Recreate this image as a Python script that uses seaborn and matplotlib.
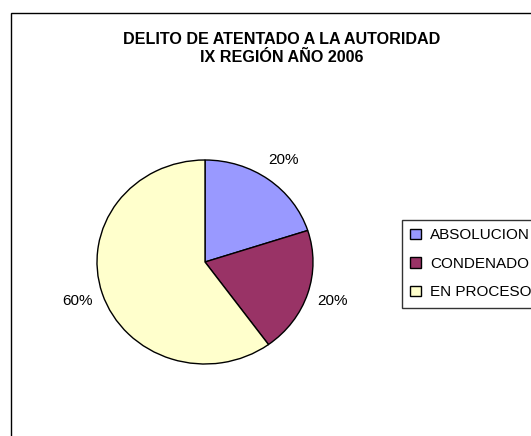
"""
Pie chart - Delito de atentado a la autoridad, IX Region 2006
"""
import matplotlib
matplotlib.use('Agg')
import matplotlib.pyplot as plt
import matplotlib.patches as mpatches
import seaborn as sns

sns.set_style('white')
plt.rcParams['font.family'] = ['Liberation Sans', 'DejaVu Sans']
plt.rcParams['text.color'] = 'black'

# data
categories = ['ABSOLUCION', 'CONDENADO', 'EN PROCESO']
values = [20, 20, 60]
colors = ['#9999FF', '#993366', '#FFFFCC']
title = 'DELITO DE ATENTADO A LA AUTORIDAD\nIX REGIÓN AÑO 2006'

W, H = 531, 436
fig = plt.figure(figsize=(W / 100, H / 100), dpi=100)

# outer chart frame (runs off the right/bottom edge like the original)
frame = mpatches.Rectangle((11 / W, -0.1), 2, (H - 13) / H + 0.1,
                           transform=fig.transFigure, fill=False,
                           edgecolor='black', lw=1)
fig.patches.append(frame)

# pie axes sized in pixels (slightly wider than tall)
ax = fig.add_axes([97 / W, 1 - 364 / H, 216 / W, 204 / H])
wedges, texts, autotexts = ax.pie(
    values, colors=colors, startangle=90, counterclock=False,
    autopct='%1.0f%%', pctdistance=1.24,
    wedgeprops={'edgecolor': 'black', 'linewidth': 1},
    textprops={'fontsize': 11, 'color': 'black'})
ax.set_aspect('auto')
ax.set_xlim(-1, 1)
ax.set_ylim(-1, 1)
ax.axis('off')

fig.text(282 / W, 1 - 48 / H, title, ha='center', va='center', color='black',
         fontsize=11.6, fontweight='bold', linespacing=1.25)

leg = fig.legend(wedges, categories, loc='upper left',
                 bbox_to_anchor=(402 / W, 1 - 220 / H), borderaxespad=0,
                 fontsize=11, frameon=True, fancybox=False,
                 handlelength=0.7, handleheight=0.7, handletextpad=0.6,
                 labelspacing=0.95, borderpad=0.55, labelcolor='black')
leg.get_frame().set_edgecolor('black')
leg.get_frame().set_linewidth(1)

plt.savefig('out.png', dpi=100)
plt.close()
